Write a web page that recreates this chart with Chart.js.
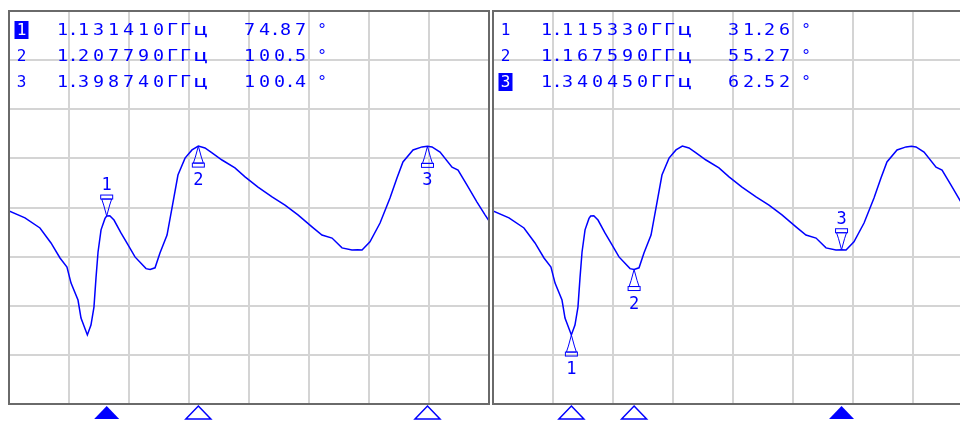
<!DOCTYPE html>
<html>
<head>
<meta charset="utf-8">
<script src="https://cdn.jsdelivr.net/npm/chart.js@4.4.1/dist/chart.umd.min.js"></script>
<style>
  html, body { margin: 0; padding: 0; background: #fff; overflow: hidden; }
  #wrap { position: relative; width: 960px; height: 421px; overflow: hidden; }
  canvas { position: absolute; top: 0; }
  #left { left: 0; }
  #right { left: 484px; }
</style>
</head>
<body>
<div id="wrap">
  <canvas id="left" width="490" height="421"></canvas>
  <canvas id="right" width="490" height="421"></canvas>
</div>
<script>
// trace (GHz / degrees)
const freqGHz = [1.0500, 1.0633, 1.0758, 1.0850, 1.0925, 1.0983, 1.1017, 1.1075, 1.1100, 1.1153,
  1.1183, 1.1208, 1.1225, 1.1242, 1.1267, 1.1300, 1.1314, 1.1340, 1.1375, 1.1433,
  1.1492, 1.1550, 1.1600, 1.1642, 1.1676, 1.1717, 1.1758, 1.1817, 1.1858, 1.1908,
  1.1967, 1.2025, 1.2078, 1.2133, 1.2192, 1.2275, 1.2383, 1.2467, 1.2575, 1.2692,
  1.2800, 1.2908, 1.3025, 1.3108, 1.3192, 1.3275, 1.3358, 1.3405, 1.3442, 1.3508,
  1.3592, 1.3675, 1.3733, 1.3783, 1.3867, 1.3942, 1.3987, 1.4025, 1.4092, 1.4192,
  1.4242, 1.4317, 1.4400, 1.4467, 1.4500];
const phaseDeg = [76.7, 74.2, 70.5, 65.0, 59.5, 56.2, 50.3, 44.1, 37.5, 31.3,
  34.9, 41.5, 52.2, 61.7, 69.8, 74.0, 74.9, 75.0, 73.4, 68.7,
  64.3, 59.9, 57.6, 55.6, 55.3, 55.9, 61.3, 67.9, 77.8, 89.9,
  96.1, 99.1, 100.5, 99.8, 98.0, 95.4, 92.5, 89.2, 85.5, 81.9,
  78.9, 75.3, 70.9, 67.9, 66.8, 63.2, 62.4, 62.5, 62.4, 65.4,
  72.3, 81.5, 88.8, 94.7, 99.1, 100.2, 100.4, 100.2, 98.3, 92.8,
  91.7, 86.2, 80.0, 75.3, 73.1];

const xTicks = [1.05, 1.10, 1.15, 1.20, 1.25, 1.30, 1.35, 1.40, 1.45];
const yTicks = [6, 24, 42, 60, 78, 96, 114, 132, 150];

const leftMarkerFreqs = [1.131410, 1.207790, 1.398740];
const leftMarkerPhases = [74.87, 100.5, 100.4];
const rightMarkerFreqs = [1.115330, 1.167590, 1.340450];
const rightMarkerPhases = [31.26, 55.27, 62.52];
const freqUnit = "ГГц";

const BLUE = "#0000ff";

function charAdv(c) {
  if (c === ".") return 6;
  if (c === "ц") return 18;
  if (c === "Г") return 13;
  return 15;
}

// draws text char by char, centred in its own cell, a bit stretched
function spaced(ctx, text, x, y) {
  ctx.textAlign = "center";
  for (const c of text) {
    const w = charAdv(c);
    ctx.save();
    ctx.translate(x + w / 2, y);
    ctx.scale(c === "ц" ? 1.5 : 1.15, 1);
    ctx.fillText(c, 0, 0);
    ctx.restore();
    x += w;
  }
}

function traceMarker(ctx, px, py, above, label) {
  const s = above ? -1 : 1;
  ctx.beginPath();
  ctx.moveTo(px, py);
  ctx.lineTo(px + 3, py + s * 11);
  ctx.lineTo(px + 5, py + s * 17);
  ctx.lineTo(px - 5, py + s * 17);
  ctx.lineTo(px - 3, py + s * 11);
  ctx.closePath();
  ctx.stroke();
  ctx.strokeRect(px - 6, above ? py - 21 : py + 17, 12, 4);
  ctx.textAlign = "center";
  ctx.fillText(label, px, above ? py - 26 : py + 39);
}

function markerPlugin(freqs, phases, active, labelAbove) {
  return {
    id: "markers",
    afterDraw(chart) {
      const { ctx, chartArea: a, scales: { x, y } } = chart;
      const L = a.left;
      ctx.save();
      ctx.strokeStyle = "#6a6a6a";
      ctx.lineWidth = 2;
      ctx.strokeRect(a.left, a.top, a.right - a.left, a.bottom - a.top);

      ctx.fillStyle = BLUE;
      ctx.strokeStyle = BLUE;
      ctx.lineWidth = 1;
      ctx.font = "16px 'DejaVu Sans Mono'";
      ctx.textBaseline = "alphabetic";
      freqs.forEach((f, i) => {
        const by = a.top + 24 + i * 26;
        ctx.textAlign = "center";
        if (i === active) {
          ctx.fillRect(L + 5.5, by - 14, 14, 18);
          ctx.fillStyle = "#fff";
          ctx.fillText(String(i + 1), L + 12.5, by);
          ctx.fillStyle = BLUE;
        } else {
          ctx.fillText(String(i + 1), L + 12.5, by);
        }
        spaced(ctx, f.toFixed(6) + freqUnit, L + 46, by);
        spaced(ctx, phases[i].toPrecision(4), L + 233, by);
        ctx.textAlign = "center";
        ctx.fillText("°", L + 313, by);
      });

      ctx.font = "17px 'DejaVu Sans Mono'";
      freqs.forEach((f, i) => {
        traceMarker(ctx, x.getPixelForValue(f), y.getPixelForValue(phases[i]), labelAbove[i], String(i + 1));
      });

      ctx.lineWidth = 1.5;
      freqs.forEach((f, i) => {
        const px = x.getPixelForValue(f);
        ctx.beginPath();
        ctx.moveTo(px, a.bottom + 2);
        ctx.lineTo(px + 12.5, a.bottom + 15);
        ctx.lineTo(px - 12.5, a.bottom + 15);
        ctx.closePath();
        if (i === active) ctx.fill(); else ctx.stroke();
      });
      ctx.restore();
    }
  };
}

function makeChart(id, freqs, phases, active, labelAbove) {
  return new Chart(document.getElementById(id), {
    type: "line",
    data: {
      datasets: [{
        data: freqGHz.map((f, i) => ({ x: f, y: phaseDeg[i] })),
        borderColor: BLUE,
        borderWidth: 1.5,
        pointRadius: 0,
        tension: 0,
        fill: false
      }]
    },
    options: {
      responsive: false,
      animation: false,
      devicePixelRatio: 1,
      layout: { padding: { left: 9, right: 1, top: 11, bottom: 17 } },
      plugins: { legend: { display: false }, tooltip: { enabled: false } },
      scales: {
        x: {
          type: "linear", min: xTicks[0], max: xTicks[xTicks.length - 1],
          afterBuildTicks: (s) => { s.ticks = xTicks.map((v) => ({ value: v })); },
          ticks: { display: false },
          grid: { color: "#d4d4d4", lineWidth: 2, drawTicks: false },
          border: { display: false }
        },
        y: {
          type: "linear", min: yTicks[0], max: yTicks[yTicks.length - 1],
          afterBuildTicks: (s) => { s.ticks = yTicks.map((v) => ({ value: v })); },
          ticks: { display: false },
          grid: { color: "#d4d4d4", lineWidth: 2, drawTicks: false },
          border: { display: false }
        }
      }
    },
    plugins: [markerPlugin(freqs, phases, active, labelAbove)]
  });
}

makeChart("left", leftMarkerFreqs, leftMarkerPhases, 0, [true, false, false]);
makeChart("right", rightMarkerFreqs, rightMarkerPhases, 2, [false, false, true]);
</script>
</body>
</html>
